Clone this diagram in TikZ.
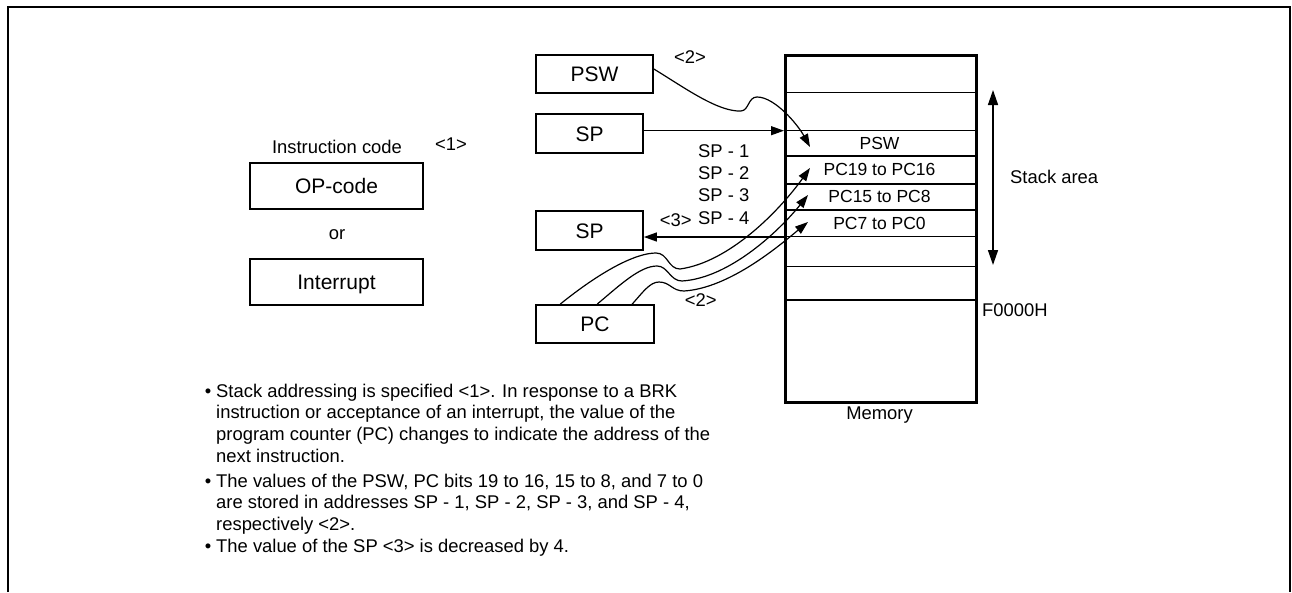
\documentclass[tikz,border=0pt]{standalone}
\usepackage{fontspec}
\setmainfont{Liberation Sans}
\usetikzlibrary{arrows.meta}
\tikzset{
  frame/.style={line width=2.6pt},
  cbox/.style={draw, line width=1.7pt, inner sep=0pt, font=\fontsize{21}{24}\selectfont, text height=15pt, text depth=0pt},
  lbl/.style={inner sep=0pt, font=\fontsize{18.4}{21.7}\selectfont, text height=13.2pt, text depth=0pt},
  rowlbl/.style={inner sep=0pt, font=\fontsize{17.5}{21}\selectfont, text height=12.5pt, text depth=0pt},
  txt/.style={inner sep=0pt, font=\fontsize{18.4}{21.7}\selectfont, anchor=base west},
  bul/.style={inner sep=0pt, font=\fontsize{18.4}{21.7}\selectfont, anchor=base},
  memln/.style={line width=1.2pt},
  conn/.style={line width=1.2pt, -{Triangle[length=13pt,width=9pt]}},
  dbl/.style={line width=1.5pt, {Triangle[length=15pt,width=10pt]}-{Triangle[length=15pt,width=10pt]}},
}
\begin{document}
\begin{tikzpicture}[x=1pt,y=-1pt]
\useasboundingbox (0,0) rectangle (1292,592);
\draw[frame] (8,592) -- (8,7) -- (1290,7) -- (1290,592);

% left side
\node[lbl] (instr) at (337,146.7) {Instruction code};
\node[lbl] (one) at (451,144) {<1>};
\node[cbox, minimum width=173, minimum height=46] (op) at (336.5,186) {OP-code};
\node[lbl] (or) at (337,232.7) {or};
\node[cbox, minimum width=173, minimum height=46] (intr) at (336.5,282) {Interrupt};

% registers
\node[cbox, minimum width=117, minimum height=38] (psw) at (594.5,74) {PSW};
\node[cbox, minimum width=107, minimum height=39] (spt) at (589.5,133.5) {SP};
\node[cbox, minimum width=107, minimum height=39] (spl) at (589.5,230.5) {SP};
\node[cbox, minimum width=118, minimum height=38] (pc) at (595,324) {PC};

% memory
\node[draw, line width=2.5pt, minimum width=191, minimum height=347, anchor=north west, inner sep=0pt] (mem) at (784,54) {};
\foreach \yy in {92.7,130.7,156,184,210,236.7,266.7,300}
  \draw[memln] (mem.west |- 0,\yy) -- (mem.east |- 0,\yy);
\node[rowlbl] (rpsw) at (879.5,143.5) {PSW};
\node[rowlbl] (r19) at (879.5,169.7) {PC19 to PC16};
\node[rowlbl] (r15) at (879.5,196.7) {PC15 to PC8};
\node[rowlbl] (r7) at (879.5,223.3) {PC7 to PC0};
\node[lbl] (memlbl) at (879.5,413) {Memory};
\node[lbl, anchor=west] (fh) at (982,309.5) {F0000H};

\coordinate (saTop) at (993,90);
\coordinate (saBot) at (993,265);
\draw[dbl] (saTop) -- (saBot);
\node[lbl, anchor=west] (sarea) at (1010,177.3) {Stack area};

% labels
\node[lbl] (two1) at (690,56.7) {<2>};
\node[lbl, anchor=west] (s1) at (698,151.2) {SP - 1};
\node[lbl, anchor=west] (s2) at (698,172.5) {SP - 2};
\node[lbl, anchor=west] (s3) at (698,195) {SP - 3};
\node[lbl, anchor=west] (s4) at (698,217.5) {SP - 4};
\node[lbl] (three) at (675.7,219.4) {<3>};
\node[lbl] (two2) at (700.7,300) {<2>};

% connectors
\coordinate (spIn) at (784,130.7);
\draw[conn] (spt.east |- spIn) -- (spIn);
\coordinate (spOut) at (785,237);
\draw[conn] (spOut) -- (spl.east |- spOut);

\coordinate (pswTip) at (810,147);
\draw[conn] ([yshift=5pt]psw.east) .. controls (685,88) and (718,112) .. (741,111)
  .. controls (749,110.5) and (748,97) .. (757,97)
  .. controls (775,97) and (798,125) .. (pswTip);

\coordinate (tA) at (810,168);
\coordinate (tB) at (808,195);
\coordinate (tC) at (808,222);
\draw[conn] ([xshift=25pt]pc.north west) .. controls (600,272) and (635,253) .. (656,253)
  .. controls (668,253) and (668,269) .. (680,269)
  .. controls (730,262) and (780,210) .. (tA);
\draw[conn] ([xshift=62pt]pc.north west) .. controls (620,285) and (640,266) .. (657,266)
  .. controls (668,266) and (670,281) .. (682,281)
  .. controls (730,278) and (780,230) .. (tB);
\draw[conn] ([xshift=97pt]pc.north west) .. controls (643,292) and (650,282) .. (659,282)
  .. controls (670,282) and (672,291) .. (684,291)
  .. controls (730,288) and (780,245) .. (tC);

% notes
\node[bul] (b1) at (208,397) {•};
\node[txt] (l1) at (216,397) {Stack addressing is specified <1>. In response to a BRK};
\node[txt] (l2) at (216,418.7) {instruction or acceptance of an interrupt, the value of the};
\node[txt] (l3) at (216,440.4) {program counter (PC) changes to indicate the address of the};
\node[txt] (l4) at (216,462) {next instruction.};
\node[bul] (b2) at (208,487) {•};
\node[txt] (l5) at (216,487) {The values of the PSW, PC bits 19 to 16, 15 to 8, and 7 to 0};
\node[txt] (l6) at (216,508.5) {are stored in addresses SP - 1, SP - 2, SP - 3, and SP - 4,};
\node[txt] (l7) at (216,530) {respectively <2>.};
\node[bul] (b3) at (208,552) {•};
\node[txt] (l8) at (216,552) {The value of the SP <3> is decreased by 4.};
\end{tikzpicture}
\end{document}
